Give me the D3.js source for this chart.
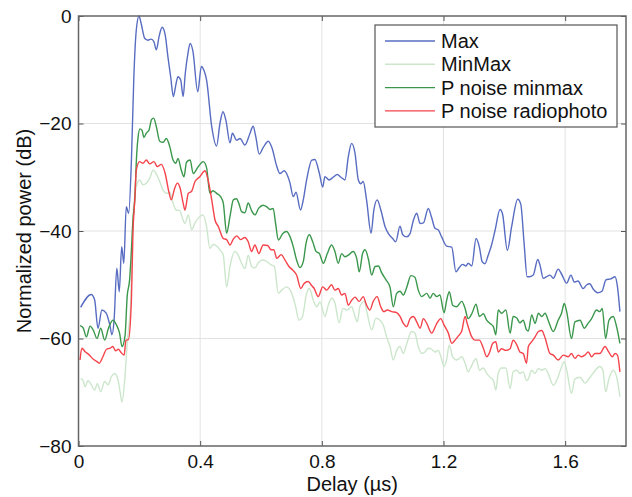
<!DOCTYPE html>
<html>
<head>
<meta charset="utf-8">
<script src="https://cdn.jsdelivr.net/npm/d3@7"></script>
<style>
  html, body { margin: 0; padding: 0; background: #fff; }
  svg { display: block; }
  text { font-family: "Liberation Sans", Arial, sans-serif; fill: #111; }
</style>
</head>
<body>
<svg id="chart" width="632" height="497"></svg>
<script>
// Power delay profiles: [delay (µs), normalized power (dB)]
const maxSeries = [
  [0.007,-54.2],[0.042,-51.8],[0.053,-52.8],[0.064,-58.1],[0.077,-54.7],[0.091,-55.3],[0.103,-57.5],[0.110,-59.3],
  [0.117,-56.6],[0.126,-46.9],[0.134,-51.3],[0.142,-42.9],[0.149,-46.0],[0.157,-35.5],[0.165,-36.7],[0.174,-26.8],
  [0.182,-11.3],[0.190,-2.6],[0.199,0],[0.206,-1.4],[0.218,-4.2],[0.228,-4.5],[0.239,-4.3],[0.248,-4.8],
  [0.256,-6.3],[0.265,-3.8],[0.275,-2.1],[0.285,-3.5],[0.294,-7.6],[0.303,-11.3],[0.312,-15.0],[0.320,-12.8],
  [0.327,-11.3],[0.336,-11.9],[0.344,-15.0],[0.351,-10.7],[0.360,-6.9],[0.367,-5.1],[0.376,-6.5],[0.392,-14.1],
  [0.404,-9.4],[0.413,-10.2],[0.421,-11.9],[0.438,-20.6],[0.454,-24.2],[0.465,-20.0],[0.475,-17.8],[0.485,-19.5],
  [0.498,-23.6],[0.506,-21.8],[0.520,-23.1],[0.531,-22.8],[0.547,-24.0],[0.564,-21.8],[0.574,-20.5],[0.583,-22.5],
  [0.594,-25.7],[0.607,-24.5],[0.624,-23.3],[0.636,-24.5],[0.652,-28.0],[0.662,-29.3],[0.676,-28.8],[0.695,-31.0],
  [0.706,-33.6],[0.715,-32.8],[0.730,-36.1],[0.739,-34.2],[0.750,-30.5],[0.767,-26.8],[0.777,-26.7],[0.792,-29.3],
  [0.803,-31.8],[0.810,-29.9],[0.824,-30.5],[0.837,-30.0],[0.851,-29.5],[0.863,-30.0],[0.876,-30.5],[0.887,-26.2],
  [0.898,-23.7],[0.909,-25.5],[0.920,-30.5],[0.928,-31.2],[0.936,-30.8],[0.947,-34.2],[0.962,-40.4],[0.971,-36.1],
  [0.982,-34.2],[0.994,-36.1],[1.008,-39.2],[1.018,-40.4],[1.033,-41.4],[1.043,-42.0],[1.057,-39.1],[1.066,-40.7],
  [1.079,-41.1],[1.090,-40.5],[1.101,-38.0],[1.112,-36.7],[1.123,-38.6],[1.134,-38.5],[1.150,-35.8],[1.161,-37.5],
  [1.172,-39.5],[1.183,-39.8],[1.194,-41.1],[1.210,-42.8],[1.227,-43.0],[1.241,-47.6],[1.252,-46.8],[1.263,-46.2],
  [1.274,-46.5],[1.281,-46.0],[1.293,-46.5],[1.307,-41.4],[1.318,-43.0],[1.327,-45.7],[1.336,-46.1],[1.347,-44.5],
  [1.358,-42.6],[1.369,-40.0],[1.386,-36.0],[1.394,-36.8],[1.410,-43.6],[1.424,-39.2],[1.444,-34.1],[1.454,-35.0],
  [1.465,-42.3],[1.475,-48.5],[1.484,-48.5],[1.495,-48.2],[1.510,-45.3],[1.517,-46.3],[1.528,-48.8],[1.539,-48.5],
  [1.550,-48.2],[1.561,-48.8],[1.577,-47.1],[1.588,-48.0],[1.605,-49.7],[1.619,-48.2],[1.630,-49.5],[1.642,-49.3],
  [1.659,-50.7],[1.671,-50.0],[1.681,-49.8],[1.692,-50.8],[1.707,-51.5],[1.721,-51.2],[1.734,-49.1],[1.750,-48.9],
  [1.764,-48.5],[1.772,-50.4],[1.780,-55.0]
];

const minMaxSeries = [
  [0.007,-67.4],[0.015,-67.8],[0.022,-69.0],[0.031,-67.8],[0.042,-68.6],[0.053,-69.6],[0.062,-68.4],[0.073,-69.9],
  [0.086,-68.0],[0.097,-68.6],[0.108,-67.1],[0.119,-66.5],[0.130,-67.7],[0.137,-70.0],[0.143,-71.8],[0.152,-67.7],
  [0.160,-60.9],[0.172,-52.8],[0.179,-37.3],[0.190,-31.8],[0.201,-30.5],[0.212,-31.4],[0.223,-31.1],[0.234,-30.2],
  [0.245,-28.7],[0.256,-29.4],[0.267,-30.8],[0.278,-32.4],[0.289,-33.0],[0.300,-32.8],[0.311,-34.8],[0.321,-36.1],
  [0.333,-36.2],[0.344,-38.0],[0.350,-38.6],[0.361,-37.0],[0.372,-39.8],[0.383,-38.5],[0.394,-37.6],[0.410,-37.0],
  [0.421,-39.2],[0.432,-43.2],[0.443,-42.5],[0.454,-42.8],[0.465,-43.5],[0.476,-44.5],[0.487,-50.4],[0.498,-46.6],
  [0.514,-43.8],[0.525,-44.5],[0.536,-46.0],[0.547,-47.0],[0.558,-44.5],[0.569,-46.6],[0.580,-46.9],[0.591,-45.9],
  [0.607,-45.4],[0.619,-45.7],[0.633,-46.3],[0.644,-46.6],[0.657,-51.6],[0.668,-51.0],[0.684,-50.4],[0.701,-51.6],
  [0.714,-54.1],[0.725,-56.6],[0.736,-56.0],[0.750,-51.6],[0.759,-50.7],[0.772,-52.9],[0.783,-54.1],[0.794,-53.2],
  [0.810,-55.9],[0.821,-53.8],[0.832,-52.5],[0.843,-53.4],[0.857,-57.1],[0.869,-54.4],[0.882,-54.7],[0.898,-54.1],
  [0.909,-55.9],[0.917,-56.9],[0.925,-54.1],[0.939,-53.1],[0.949,-55.3],[0.964,-58.4],[0.978,-56.2],[0.991,-56.6],
  [1.002,-57.5],[1.013,-59.7],[1.024,-61.5],[1.035,-64.0],[1.046,-62.2],[1.057,-61.5],[1.068,-62.8],[1.079,-61.0],
  [1.095,-58.7],[1.106,-59.0],[1.117,-61.5],[1.128,-62.8],[1.139,-62.5],[1.150,-61.8],[1.161,-62.0],[1.172,-62.5],
  [1.183,-62.2],[1.192,-63.5],[1.202,-65.2],[1.210,-64.0],[1.219,-61.2],[1.230,-63.4],[1.243,-64.0],[1.260,-63.4],
  [1.271,-64.6],[1.281,-66.2],[1.293,-65.0],[1.307,-63.7],[1.318,-65.9],[1.331,-65.5],[1.342,-66.5],[1.353,-67.2],
  [1.364,-67.8],[1.372,-69.6],[1.380,-66.5],[1.391,-65.5],[1.405,-65.5],[1.419,-69.3],[1.429,-66.2],[1.441,-65.9],
  [1.451,-66.5],[1.462,-66.2],[1.473,-67.8],[1.479,-67.5],[1.490,-65.9],[1.501,-66.5],[1.512,-65.6],[1.523,-65.9],
  [1.534,-65.6],[1.544,-66.5],[1.561,-68.7],[1.577,-67.1],[1.588,-65.3],[1.597,-64.3],[1.605,-65.9],[1.621,-70.2],
  [1.632,-67.5],[1.649,-67.2],[1.665,-68.3],[1.682,-67.2],[1.698,-66.0],[1.714,-65.2],[1.724,-65.9],[1.733,-69.9],
  [1.744,-67.5],[1.758,-65.9],[1.769,-67.1],[1.780,-70.8]
];

const noiseMinmaxSeries = [
  [0.005,-57.6],[0.015,-58.0],[0.026,-59.7],[0.038,-57.7],[0.049,-58.5],[0.061,-60.0],[0.073,-58.1],[0.086,-60.3],
  [0.099,-58.0],[0.113,-56.6],[0.125,-57.5],[0.135,-59.0],[0.143,-61.5],[0.153,-59.5],[0.160,-52.2],[0.168,-49.1],
  [0.174,-43.5],[0.179,-38.0],[0.185,-34.2],[0.191,-26.0],[0.196,-22.5],[0.202,-21.0],[0.209,-21.3],[0.215,-22.6],
  [0.223,-21.8],[0.232,-21.2],[0.240,-19.3],[0.247,-19.0],[0.256,-20.6],[0.267,-23.3],[0.278,-23.5],[0.289,-22.8],
  [0.300,-24.3],[0.311,-26.8],[0.320,-27.4],[0.327,-26.5],[0.338,-28.7],[0.347,-29.9],[0.355,-27.2],[0.367,-26.8],
  [0.377,-29.3],[0.394,-28.0],[0.410,-27.1],[0.421,-28.2],[0.432,-33.0],[0.442,-32.5],[0.454,-33.0],[0.467,-33.6],
  [0.476,-34.8],[0.487,-40.4],[0.498,-37.3],[0.509,-34.2],[0.519,-34.0],[0.528,-35.0],[0.536,-36.4],[0.547,-36.6],
  [0.558,-34.8],[0.569,-36.2],[0.580,-37.0],[0.592,-35.8],[0.607,-35.2],[0.619,-35.5],[0.630,-36.0],[0.640,-35.8],
  [0.648,-38.6],[0.657,-41.7],[0.671,-40.5],[0.684,-40.1],[0.695,-41.0],[0.706,-42.9],[0.717,-45.4],[0.728,-46.8],
  [0.739,-45.7],[0.748,-42.3],[0.759,-40.7],[0.770,-42.0],[0.781,-43.8],[0.792,-44.2],[0.805,-46.0],[0.818,-44.2],
  [0.832,-42.6],[0.843,-43.8],[0.854,-46.0],[0.865,-44.2],[0.876,-44.8],[0.887,-44.5],[0.903,-43.8],[0.915,-45.2],
  [0.923,-47.6],[0.934,-44.2],[0.942,-43.5],[0.953,-45.2],[0.964,-48.2],[0.975,-46.6],[0.986,-46.5],[0.997,-47.8],
  [1.011,-49.1],[1.024,-50.4],[1.035,-54.1],[1.046,-51.6],[1.057,-51.2],[1.068,-51.9],[1.079,-50.5],[1.093,-48.3],
  [1.106,-48.6],[1.117,-51.0],[1.128,-52.2],[1.145,-51.6],[1.156,-52.5],[1.166,-51.6],[1.178,-52.2],[1.188,-51.9],
  [1.202,-55.2],[1.210,-53.0],[1.219,-51.3],[1.230,-53.8],[1.243,-54.1],[1.260,-53.1],[1.271,-54.4],[1.281,-56.3],
  [1.293,-55.4],[1.307,-53.6],[1.318,-55.9],[1.331,-55.4],[1.342,-56.6],[1.353,-57.2],[1.364,-57.8],[1.372,-59.3],
  [1.380,-54.7],[1.391,-55.3],[1.405,-54.7],[1.419,-59.0],[1.429,-55.9],[1.441,-56.2],[1.451,-57.1],[1.462,-56.6],
  [1.473,-58.4],[1.479,-58.6],[1.490,-55.6],[1.501,-57.2],[1.512,-55.3],[1.523,-55.9],[1.534,-55.3],[1.544,-56.6],
  [1.561,-58.7],[1.577,-56.6],[1.588,-55.3],[1.597,-53.5],[1.605,-55.0],[1.621,-60.0],[1.632,-56.9],[1.649,-56.6],
  [1.663,-58.1],[1.675,-57.2],[1.687,-56.3],[1.703,-54.7],[1.714,-55.0],[1.722,-54.4],[1.733,-60.0],[1.744,-56.6],
  [1.758,-55.9],[1.769,-57.8],[1.780,-60.9]
];

const noiseRadioSeries = [
  [0.005,-64.0],[0.011,-61.8],[0.021,-62.4],[0.034,-63.0],[0.048,-63.8],[0.061,-64.3],[0.068,-64.6],[0.081,-63.3],
  [0.092,-62.0],[0.104,-61.8],[0.113,-61.5],[0.122,-62.3],[0.131,-62.0],[0.140,-62.6],[0.150,-63.1],[0.156,-60.3],
  [0.164,-60.2],[0.174,-52.8],[0.179,-40.4],[0.185,-34.2],[0.190,-28.7],[0.201,-27.1],[0.212,-27.4],[0.223,-26.8],
  [0.234,-27.5],[0.248,-27.1],[0.259,-28.0],[0.272,-27.6],[0.285,-29.3],[0.297,-32.7],[0.305,-34.2],[0.316,-32.1],
  [0.325,-31.1],[0.334,-32.0],[0.344,-34.8],[0.350,-36.1],[0.361,-33.0],[0.372,-32.6],[0.383,-30.8],[0.399,-29.9],
  [0.416,-28.8],[0.426,-30.5],[0.438,-34.2],[0.449,-38.0],[0.460,-39.2],[0.476,-41.4],[0.487,-41.6],[0.498,-42.6],
  [0.509,-41.5],[0.520,-40.9],[0.533,-41.6],[0.547,-41.2],[0.558,-42.0],[0.569,-43.8],[0.580,-42.6],[0.593,-44.2],
  [0.607,-42.6],[0.622,-42.7],[0.633,-43.5],[0.642,-43.5],[0.652,-45.1],[0.666,-44.4],[0.679,-45.4],[0.692,-46.6],
  [0.703,-47.2],[0.717,-48.2],[0.731,-50.7],[0.741,-49.8],[0.755,-49.4],[0.767,-50.2],[0.774,-50.6],[0.788,-52.2],
  [0.803,-50.4],[0.816,-51.0],[0.832,-50.0],[0.843,-51.0],[0.854,-50.7],[0.865,-51.9],[0.876,-51.6],[0.887,-53.8],
  [0.898,-52.9],[0.909,-52.3],[0.923,-53.1],[0.936,-52.2],[0.947,-53.8],[0.958,-54.7],[0.969,-53.1],[0.982,-52.2],
  [0.993,-54.0],[1.004,-55.0],[1.015,-54.7],[1.030,-55.0],[1.046,-55.2],[1.057,-55.9],[1.068,-57.2],[1.079,-57.8],
  [1.090,-56.3],[1.101,-55.9],[1.112,-56.9],[1.123,-58.1],[1.134,-56.3],[1.145,-57.2],[1.161,-59.0],[1.178,-57.2],
  [1.191,-56.3],[1.202,-57.5],[1.216,-59.0],[1.227,-60.9],[1.238,-60.3],[1.249,-59.5],[1.260,-58.6],[1.271,-55.9],
  [1.278,-57.2],[1.293,-59.7],[1.303,-60.3],[1.318,-60.3],[1.331,-61.8],[1.342,-63.4],[1.350,-62.8],[1.362,-60.9],
  [1.372,-60.6],[1.380,-62.5],[1.391,-61.9],[1.405,-62.2],[1.419,-61.9],[1.429,-60.3],[1.441,-61.2],[1.451,-62.5],
  [1.462,-62.8],[1.473,-64.6],[1.479,-61.5],[1.490,-60.6],[1.501,-59.7],[1.512,-58.7],[1.523,-58.5],[1.534,-59.9],
  [1.550,-62.8],[1.561,-63.1],[1.577,-64.0],[1.594,-63.1],[1.610,-63.4],[1.621,-62.8],[1.632,-63.7],[1.643,-63.1],
  [1.654,-63.4],[1.665,-63.1],[1.676,-62.5],[1.687,-63.4],[1.698,-62.8],[1.714,-62.8],[1.731,-61.5],[1.742,-62.4],
  [1.755,-63.4],[1.764,-62.8],[1.772,-63.1],[1.780,-66.2]
];

const seriesNames = ["Max", "MinMax", "P noise minmax", "P noise radiophoto"];
const seriesColors = ["#586cc2", "#cce6cc", "#3a974c", "#f4434b"];
const xTicks = [0, 0.4, 0.8, 1.2, 1.6];
const yTicks = [-80, -60, -40, -20, 0];
const xDomain = [0, 1.8];
const yDomain = [-80, 0];

const allSeries = [maxSeries, minMaxSeries, noiseMinmaxSeries, noiseRadioSeries];

const W = 632, H = 497;
const margin = { top: 16, right: 6, bottom: 51, left: 78.5 };
const innerW = W - margin.left - margin.right;
const innerH = H - margin.top - margin.bottom;

const svg = d3.select("#chart");
const g = svg.append("g").attr("transform", `translate(${margin.left},${margin.top})`);

const x = d3.scaleLinear().domain(xDomain).range([0, innerW]);
const y = d3.scaleLinear().domain(yDomain).range([innerH, 0]);

// grid
const grid = g.append("g").attr("class", "grid");
grid.selectAll("line.vx").data(xTicks.filter(t => t > 0)).join("line")
  .attr("x1", d => x(d)).attr("x2", d => x(d)).attr("y1", 0).attr("y2", innerH)
  .attr("stroke", "#e2e2e2").attr("stroke-width", 1);
grid.selectAll("line.hy").data(yTicks.filter(t => t > -80 && t < 0)).join("line")
  .attr("x1", 0).attr("x2", innerW).attr("y1", d => y(d)).attr("y2", d => y(d))
  .attr("stroke", "#e2e2e2").attr("stroke-width", 1);

// series
const line = d3.line().x(d => x(d[0])).y(d => y(d[1])).curve(d3.curveMonotoneX);
svg.append("defs").append("clipPath").attr("id", "plot-clip")
  .append("rect").attr("x", 0).attr("y", -2).attr("width", innerW).attr("height", innerH + 4);
const plot = g.append("g").attr("clip-path", "url(#plot-clip)");
allSeries.forEach((s, i) => {
  plot.append("path").datum(s).attr("d", line)
    .attr("fill", "none").attr("stroke", seriesColors[i])
    .attr("stroke-width", 1.4).attr("stroke-linejoin", "round");
});

// axes (ticks point inward, mirrored on top and right)
const tickLen = 5;
const xAxis = d3.axisBottom(x).tickValues(xTicks).tickFormat(d3.format("")).tickSizeInner(-tickLen).tickSizeOuter(0).tickPadding(9);
const yAxis = d3.axisLeft(y).tickValues(yTicks).tickFormat(d3.format("")).tickSizeInner(-tickLen).tickSizeOuter(0).tickPadding(7);
const xTop = d3.axisTop(x).tickValues(xTicks).tickFormat("").tickSizeInner(-tickLen).tickSizeOuter(0);
const yRight = d3.axisRight(y).tickValues(yTicks).tickFormat("").tickSizeInner(-tickLen).tickSizeOuter(0);

function styleAxis(sel) {
  sel.select(".domain").remove();
  sel.selectAll(".tick line").attr("stroke", "#555").attr("stroke-width", 1);
  sel.selectAll(".tick text").attr("font-size", 19).attr("fill", "#111")
    .attr("font-family", "'Liberation Sans', Arial, sans-serif");
}
g.append("g").attr("transform", `translate(0,${innerH})`).call(xAxis).call(styleAxis);
g.append("g").call(yAxis).call(styleAxis);
g.append("g").call(xTop).call(styleAxis);
g.append("g").attr("transform", `translate(${innerW},0)`).call(yRight).call(styleAxis);

// frame
g.append("rect").attr("x", 0).attr("y", 0).attr("width", innerW).attr("height", innerH)
  .attr("fill", "none").attr("stroke", "#666").attr("stroke-width", 1.5);

// axis titles
g.append("text").attr("x", innerW / 2).attr("y", innerH + 45)
  .attr("text-anchor", "middle").attr("font-size", 20).text("Delay (µs)");
g.append("text").attr("transform", `translate(${-47.5},${innerH / 2}) rotate(-90)`)
  .attr("text-anchor", "middle").attr("font-size", 20).text("Normalized power (dB)");

// legend
const legend = svg.append("g").attr("transform", "translate(375,25)");
legend.append("rect").attr("x", 0).attr("y", 0).attr("width", 242).attr("height", 102)
  .attr("fill", "#fff").attr("stroke", "#555").attr("stroke-width", 1.2);
seriesNames.forEach((name, i) => {
  const cy = 16 + i * 23.3;
  legend.append("line").attr("x1", 10).attr("x2", 60).attr("y1", cy).attr("y2", cy)
    .attr("stroke", seriesColors[i]).attr("stroke-width", 1.4);
  legend.append("text").attr("x", 66).attr("y", cy).attr("dy", "0.35em")
    .attr("font-size", 20).text(name);
});
</script>
</body>
</html>
